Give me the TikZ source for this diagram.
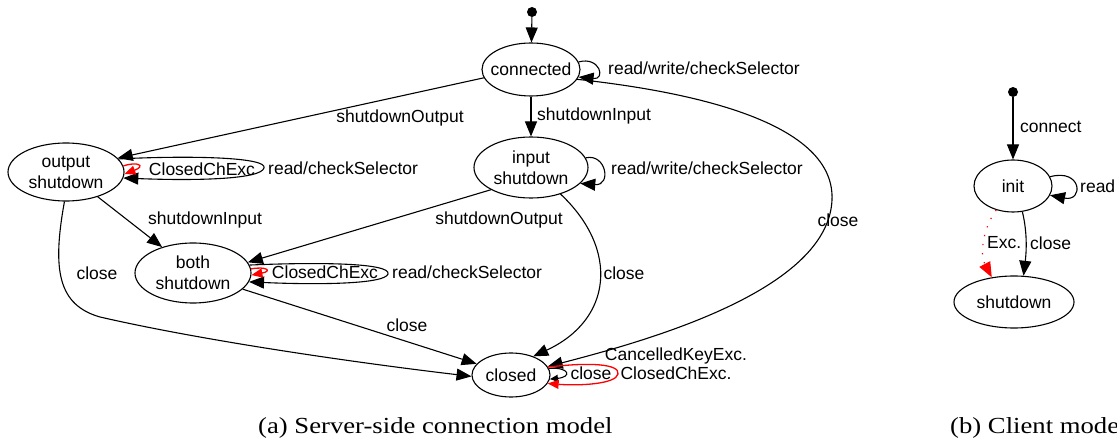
\documentclass[tikz,border=0pt]{standalone}
\usepackage{fontspec}
\setmainfont{Liberation Sans}
\newfontfamily\capfont{Liberation Serif}
\usetikzlibrary{arrows.meta,shapes.geometric}
\begin{document}
\begin{tikzpicture}[x=1pt,y=-1pt,
  every node/.style={font=\fontsize{17.5}{21}\selectfont},
  st/.style={draw, ellipse, line width=1.1pt, inner sep=-8pt, align=center},
  edge/.style={draw, line width=1.1pt, -{Triangle[length=15pt,width=12pt]}},
  smalledge/.style={draw, line width=1.1pt, -{Triangle[length=8pt,width=7pt]}},
  redge/.style={draw=red, line width=1.3pt, -{Triangle[length=11pt,width=9pt,fill=red]}},
  dotedge/.style={draw=red, line width=1.2pt, dash pattern=on 1.2pt off 8pt, -{Triangle[length=15pt,width=12pt,fill=red]}},
  lbl/.style={inner sep=0pt},
  lblw/.style={inner sep=0pt, anchor=west},
  startdot/.style={circle, fill, inner sep=0pt, minimum size=10pt},
  captext/.style={font=\capfont\fontsize{23}{27}\selectfont, inner sep=0pt, anchor=base west}
]
\useasboundingbox (0,0) rectangle (1117,446);
\clip (0,0) rectangle (1117,446);

% ---------- server side ----------
\node[startdot] (s0) at (532,12) {};
\node[st, minimum width=98pt, minimum height=53pt] (con) at (531,69.5) {connected};
\node[st, minimum width=114pt, minimum height=61pt] (ins) at (531,167.5) {input\\shutdown};
\node[st, minimum width=116pt, minimum height=58pt] (outs) at (66,172) {output\\shutdown};
\node[st, minimum width=116pt, minimum height=60pt] (both) at (193,273) {both\\shutdown};
\node[st, minimum width=78pt, minimum height=44pt] (cl) at (511,375) {closed};

\draw[edge] (s0) -- (con);
\draw[edge] (con.190) -- (outs.15);
\node[lbl] (l1) at (400,118) {shutdownOutput};
\draw[edge] (con) -- (ins);
\node[lblw] (l2) at (537,116) {shutdownInput};
\draw[edge] (con.9) .. controls (600,56) and (606,80) .. (con.-9);
\node[lblw] (l3) at (608,68) {read/write/checkSelector};
\draw[edge] (con.-12) .. controls (720,95) and (835,130) .. (832,200)
  .. controls (828,290) and (650,340) .. (cl.13);
\node[lbl] (l4) at (838,220) {close};

\draw[edge] (ins.10) .. controls (606,153) and (612,186) .. (ins.-18);
\node[lblw] (l5) at (611,168) {read/write/checkSelector};
\draw[edge] (ins.209) -- (both.11);
\node[lbl] (l6) at (499,220) {shutdownOutput};
\draw[edge] (ins.-42) .. controls (620,250) and (612,320) .. (cl.40);
\node[lbl] (l7) at (624,273) {close};

\draw[edge] (outs.14) .. controls (200,155) and (268,158) .. (264,168)
  .. controls (261,179) and (200,181) .. (outs.-6);
\draw[redge] (outs.6) .. controls (138,161) and (146,166) .. (outs.-2);
\node[lbl] (l8) at (202,169) {ClosedChExc};
\node[lblw] (l9) at (268,168) {read/checkSelector};
\draw[edge] (outs.-38) -- (both.140);
\node[lbl] (l10) at (205,220) {shutdownInput};
\draw[edge] (outs.-93) .. controls (52,270) and (58,305) .. (100,317)
  .. controls (200,340) and (350,362) .. (cl.182);
\node[lbl] (l11) at (97,273) {close};

\draw[edge] (both.8) .. controls (320,262) and (391,263) .. (388,274)
  .. controls (385,284) and (320,285) .. (both.-9);
\draw[redge] (both.4) .. controls (266,266) and (273,271) .. (both.-2);
\node[lbl] (l12) at (325,272) {ClosedChExc};
\node[lblw] (l13) at (392,272) {read/checkSelector};
\draw[edge] (both.-18) -- (cl.162);
\node[lbl] (l14) at (407,325) {close};

\draw[smalledge] (cl.10) .. controls (570,367) and (572,377) .. (cl.-6);
\draw[redge] (cl.12) .. controls (590,362) and (620,364) .. (618,374)
  .. controls (616,384) and (580,386) .. (cl.-13);
\node[lbl] (l15) at (591,373) {close};
\node[lbl, align=center, font=\fontsize{17.5}{19}\selectfont] (l16) at (676,364) {CancelledKeyExc.\\ClosedChExc.};

% ---------- client ----------
\node[startdot] (s1) at (1013,92) {};
\node[st, minimum width=78pt, minimum height=52pt] (init) at (1013,186) {init};
\node[st, minimum width=120pt, minimum height=52pt] (sd) at (1014,302) {shutdown};

\draw[edge] (s1) -- (init);
\node[lblw] (l17) at (1020,127) {connect};
\draw[edge] (init.14) .. controls (1082,168) and (1084,202) .. (init.-14);
\node[lblw] (l18) at (1080,186) {read};
\draw[edge] (init.-70) .. controls (1028,235) and (1026,255) .. (sd.70);
\node[lblw] (l19) at (1030,243) {close};
\draw[dotedge] (init.-125) .. controls (982,230) and (980,255) .. (sd.132);
\node[lblw] (l20) at (987,243) {Exc.};

% ---------- captions ----------
\node[captext] (capa) at (258,433) {\scalebox{1.16}[1]{(a) Server-side connection model}};
\node[captext] (capb) at (950,433) {\scalebox{1.16}[1]{(b) Client mode}};
\end{tikzpicture}
\end{document}
